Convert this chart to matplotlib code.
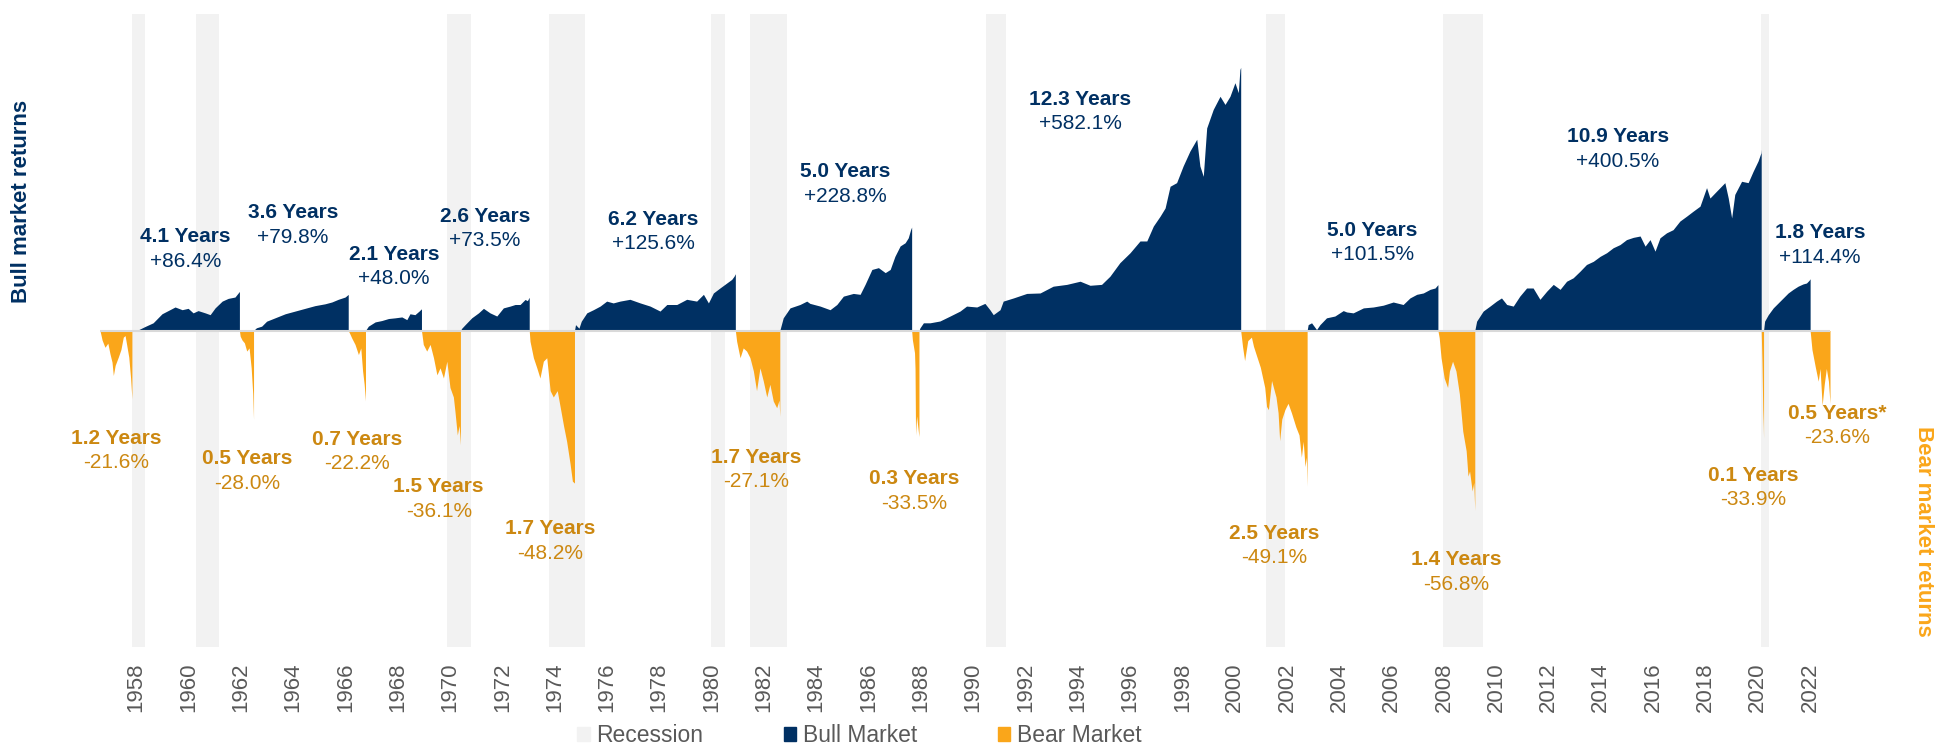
import matplotlib
matplotlib.use("Agg")
import matplotlib.pyplot as plt
from matplotlib.patches import Patch

plt.rcParams['font.family'] = ['Liberation Sans', 'DejaVu Sans']

# cumulative returns (%) along each bull market
bull_57_t = [1957.84, 1958.1, 1958.34, 1958.65, 1958.99, 1959.19, 1959.49, 1959.76, 1959.99, 1960.18,
             1960.37, 1960.64, 1960.83, 1961.02, 1961.29, 1961.52, 1961.78, 1961.95]
bull_57_v = [0, 2, 8.8, 17, 37, 43, 52, 46, 49, 39, 44, 39, 35, 50, 65, 71, 74, 86.4]

bull_62_t = [1962.49, 1962.6, 1962.8, 1962.99, 1963.31, 1963.7, 1964.08, 1964.46, 1964.84, 1965.22,
             1965.48, 1965.73, 1965.99, 1966.11]
bull_62_v = [0, 6, 9.6, 20.6, 28, 37, 43, 49, 55, 59, 63, 69, 74, 79.8]

bull_66_t = [1966.77, 1966.88, 1967.14, 1967.39, 1967.65, 1967.9, 1968.16, 1968.35, 1968.47, 1968.66,
             1968.82, 1968.91]
bull_66_v = [0, 9.6, 19, 22, 26.5, 28, 30, 24, 37, 35, 43, 48.0]

bull_70_t = [1970.4, 1970.45, 1970.58, 1970.83, 1971.09, 1971.28, 1971.53, 1971.79, 1972.04, 1972.3,
             1972.49, 1972.68, 1972.87, 1972.96, 1973.03]
bull_70_v = [0, 5, 13, 28, 39, 49, 39, 32, 50, 54, 57.5, 57.5, 68.6, 66, 73.5]

bull_74_t = [1974.76, 1974.8, 1974.93, 1975.02, 1975.23, 1975.48, 1975.74, 1975.99, 1976.24, 1976.5,
             1976.88, 1977.27, 1977.65, 1978.03, 1978.29, 1978.67, 1979.05, 1979.43, 1979.69, 1979.88,
             1980.07, 1980.32, 1980.58, 1980.77, 1980.86, 1980.91]
bull_74_v = [0, 13, 5, 20.6, 39, 46, 54, 65, 61, 65, 69, 61, 54, 43, 57.5, 57.5, 69, 65, 80, 61,
             83, 94, 105, 113, 120, 125.6]

bull_82_t = [1982.61, 1982.74, 1983.0, 1983.38, 1983.64, 1983.76, 1984.15, 1984.53, 1984.79, 1985.04,
             1985.42, 1985.68, 1985.87, 1986.13, 1986.38, 1986.64, 1986.83, 1987.01, 1987.21, 1987.4,
             1987.52, 1987.61, 1987.65]
bull_82_v = [0, 28, 50, 57.5, 65, 60, 54, 46, 57.5, 76, 82, 80, 102, 135, 139, 128, 135, 164, 187, 194,
             205, 223, 228.8]

bull_87_t = [1987.93, 1987.97, 1988.1, 1988.35, 1988.73, 1989.12, 1989.5, 1989.75, 1990.14, 1990.45,
             1990.64, 1990.77, 1991.03, 1991.15, 1991.54, 1992.05, 1992.56, 1993.06, 1993.58, 1994.09,
             1994.47, 1994.91, 1995.23, 1995.61, 1996.0, 1996.38, 1996.64, 1996.89, 1997.15, 1997.34,
             1997.53, 1997.78, 1998.03, 1998.29, 1998.55, 1998.67, 1998.8, 1998.93, 1999.18, 1999.44,
             1999.63, 1999.82, 2000.01, 2000.14, 2000.2, 2000.23]
bull_87_v = [0, 6, 17, 17, 21, 32, 43, 54, 52, 60, 46, 35, 46, 65, 72, 82, 83, 98, 102, 109,
             100, 102, 120, 150, 172, 198, 198, 231, 253, 271, 319, 327, 364, 397, 423, 364, 341, 448,
             489, 518, 500, 518, 548, 526, 577, 582.1]

bull_02_t = [2002.77, 2002.81, 2002.94, 2003.13, 2003.26, 2003.51, 2003.83, 2004.15, 2004.28, 2004.53,
             2004.92, 2005.3, 2005.68, 2006.06, 2006.44, 2006.7, 2006.96, 2007.21, 2007.47, 2007.66,
             2007.77]
bull_02_v = [0, 13, 17, 2, 13, 28, 32, 44, 41, 39, 50, 52, 56, 63, 57.5, 72, 80, 83, 91, 94, 101.5]

bull_09_t = [2009.18, 2009.25, 2009.5, 2009.76, 2010.01, 2010.2, 2010.4, 2010.65, 2010.9, 2011.16,
             2011.41, 2011.67, 2011.93, 2012.18, 2012.44, 2012.69, 2012.94, 2013.2, 2013.45, 2013.71,
             2013.97, 2014.22, 2014.47, 2014.73, 2014.98, 2015.24, 2015.5, 2015.69, 2015.88, 2016.07,
             2016.26, 2016.51, 2016.76, 2017.02, 2017.28, 2017.53, 2017.79, 2018.04, 2018.17, 2018.42,
             2018.74, 2018.87, 2019.0, 2019.12, 2019.38, 2019.63, 2019.82, 2020.01, 2020.12, 2020.13]
bull_09_v = [0, 20.6, 43, 54, 65, 72, 57.5, 54, 76, 94, 94, 69, 87, 102, 91, 109, 116.5, 131, 146, 153,
             164, 172, 183, 190, 201, 206, 209, 186.6, 201, 175.5, 205, 216, 223, 242, 253, 264, 275,
             316, 293, 308, 327, 293, 249, 301, 330, 327, 352, 375, 393, 400.5]

bull_20_t = [2020.22, 2020.26, 2020.4, 2020.59, 2020.78, 2020.97, 2021.16, 2021.35, 2021.54, 2021.73,
             2021.86, 2021.96, 2022.0]
bull_20_v = [0, 20.6, 35, 50, 61, 72, 83, 91, 98, 103, 105, 111, 114.4]

# drawdowns (%) along each bear market
bear_56_t = [1956.62, 1956.7, 1956.81, 1956.92, 1957.0, 1957.08, 1957.13, 1957.2, 1957.32, 1957.42,
             1957.51, 1957.58, 1957.65, 1957.72, 1957.79, 1957.84]
bear_56_v = [0, -3, -5.3, -4, -7.3, -10, -14.2, -11, -8.4, -6, -2.1, -1.6, -5, -8.4, -15, -21.6]

bear_61_t = [1961.95, 1961.98, 1962.05, 1962.14, 1962.23, 1962.32, 1962.4, 1962.46, 1962.49]
bear_61_v = [0, -1.8, -3, -3.9, -6.5, -5.5, -11.8, -20, -28.0]

bear_66_t = [1966.11, 1966.17, 1966.24, 1966.37, 1966.5, 1966.59, 1966.66, 1966.72, 1966.77]
bear_66_v = [0, -1, -2.3, -4.4, -7.6, -5.5, -12.8, -17, -22.2]

bear_68_t = [1968.91, 1968.98, 1969.11, 1969.24, 1969.37, 1969.5, 1969.62, 1969.75, 1969.88, 1970.0,
             1970.13, 1970.19, 1970.28, 1970.35, 1970.4]
bear_68_v = [0, -4.4, -6.5, -4.4, -8.6, -14, -11.8, -15, -9.7, -18, -21, -25.5, -33, -30, -36.1]

bear_73_t = [1973.03, 1973.06, 1973.19, 1973.32, 1973.44, 1973.57, 1973.7, 1973.83, 1973.95, 1974.1,
             1974.21, 1974.34, 1974.46, 1974.59, 1974.68, 1974.76]
bear_73_v = [0, -3.4, -8.6, -11.8, -15, -9.7, -8.6, -19, -21, -19, -24, -30, -35, -42, -47.6, -48.2]

bear_80_t = [1980.91, 1980.96, 1981.09, 1981.21, 1981.34, 1981.47, 1981.6, 1981.72, 1981.85, 1981.98,
             1982.11, 1982.23, 1982.36, 1982.49, 1982.58, 1982.61]
bear_80_v = [0, -3.4, -8.6, -5.5, -6.5, -8.6, -12.8, -19, -11.8, -16, -21, -17, -22.3, -24.4, -22, -27.1]

bear_87_t = [1987.65, 1987.68, 1987.72, 1987.76, 1987.78, 1987.8, 1987.84, 1987.88, 1987.93]
bear_87_v = [0, -3, -5, -7, -12, -33, -27, -30, -33.5]

bear_00_t = [2000.23, 2000.3, 2000.38, 2000.5, 2000.64, 2000.72, 2000.81, 2000.98, 2001.15, 2001.22,
             2001.29, 2001.41, 2001.58, 2001.66, 2001.72, 2001.8, 2001.92, 2002.04, 2002.17, 2002.34,
             2002.46, 2002.55, 2002.62, 2002.69, 2002.74, 2002.77]
bear_00_v = [0, -5, -9.5, -3.2, -2.1, -5, -7.3, -11.6, -18, -24, -25, -15.8, -21, -26, -34.8, -28,
             -25, -23, -26, -30.5, -33, -40, -35, -43, -40, -49.1]

bear_07_t = [2007.77, 2007.82, 2007.89, 2008.01, 2008.14, 2008.21, 2008.33, 2008.46, 2008.59, 2008.72,
             2008.85, 2008.92, 2008.98, 2009.08, 2009.14, 2009.18]
bear_07_v = [0, -2.3, -8.6, -15, -18, -12.8, -9.7, -12.8, -20, -31.8, -38, -46, -44.4, -50.7, -48, -56.8]

bear_20_t = [2020.13, 2020.16, 2020.19, 2020.21, 2020.22]
bear_20_v = [0, -10, -25, -30, -33.9]

bear_22_t = [2022.0, 2022.07, 2022.2, 2022.31, 2022.38, 2022.46, 2022.54, 2022.62, 2022.7, 2022.76]
bear_22_v = [0, -6, -11.6, -16, -12, -23.6, -17, -12, -16, -23]

recession_start = [1957.84, 1960.29, 1969.88, 1973.78, 1979.97, 1981.47, 1990.49, 2001.2, 2007.95, 2020.14]
recession_end = [1958.34, 1961.17, 1970.81, 1975.16, 1980.53, 1982.87, 1991.25, 2001.92, 2009.5, 2020.43]

bull_dur = ['4.1 Years', '3.6 Years', '2.1 Years', '2.6 Years', '6.2 Years', '5.0 Years',
            '12.3 Years', '5.0 Years', '10.9 Years', '1.8 Years']
bull_ret = ['+86.4%', '+79.8%', '+48.0%', '+73.5%', '+125.6%', '+228.8%',
            '+582.1%', '+101.5%', '+400.5%', '+114.4%']
bear_dur = ['1.2 Years', '0.5 Years', '0.7 Years', '1.5 Years', '1.7 Years', '1.7 Years',
            '0.3 Years', '2.5 Years', '1.4 Years', '0.1 Years', '0.5 Years*']
bear_ret = ['-21.6%', '-28.0%', '-22.2%', '-36.1%', '-48.2%', '-27.1%',
            '-33.5%', '-49.1%', '-56.8%', '-33.9%', '-23.6%']

tick_years = list(range(1958, 2023, 2))

# label anchor points (x in years, y in axis units)
bull_lab_x = [1959.89, 1964.0, 1967.86, 1971.34, 1977.76, 1985.1, 1994.09, 2005.27, 2014.65, 2022.37]
bull_lab_y = [206.8, 260, 169, 253, 246.6, 350.6, 512, 222, 428, 215.7]
bear_lab_x = [1957.23, 1962.23, 1966.45, 1969.57, 1973.83, 1981.7, 1987.75, 2001.51, 2008.47, 2019.82, 2023.02]
bear_lab_y = [-34, -40.6, -34.3, -49.4, -62.7, -40, -46.9, -64, -72.5, -45.7, -26.1]

navy = '#003063'
orange = '#FAA61A'
orange_txt = '#CC8811'
rec_gray = '#F2F2F2'
txt_gray = '#595959'

bulls = [(bull_57_t, bull_57_v), (bull_62_t, bull_62_v), (bull_66_t, bull_66_v), (bull_70_t, bull_70_v),
         (bull_74_t, bull_74_v), (bull_82_t, bull_82_v), (bull_87_t, bull_87_v), (bull_02_t, bull_02_v),
         (bull_09_t, bull_09_v), (bull_20_t, bull_20_v)]
bears = [(bear_56_t, bear_56_v), (bear_61_t, bear_61_v), (bear_66_t, bear_66_v), (bear_68_t, bear_68_v),
         (bear_73_t, bear_73_v), (bear_80_t, bear_80_v), (bear_87_t, bear_87_v), (bear_00_t, bear_00_v),
         (bear_07_t, bear_07_v), (bear_20_t, bear_20_v), (bear_22_t, bear_22_v)]

W, H = 1937, 748
fig = plt.figure(figsize=(W / 100, H / 100), dpi=100)
ax = fig.add_axes([100 / W, 1 - 647 / H, 1730 / W, 633 / H])
ax2 = ax.twinx()

for s, e in zip(recession_start, recession_end):
    ax.axvspan(s, e, color=rec_gray, lw=0, zorder=0)

for t, v in bulls:
    ax.fill_between(t, 0, v, color=navy, lw=0, zorder=2)
for t, v in bears:
    ax2.fill_between(t, 0, v, color=orange, lw=0, zorder=2)

ax2.axhline(0, color='#D9D9D9', lw=1.5, zorder=3)

ax.set_xlim(1956.62, 2022.76)
ax.set_ylim(-700, 700)
ax2.set_ylim(-100, 100)

for a in (ax, ax2):
    for sp in a.spines.values():
        sp.set_visible(False)
    a.set_yticks([])

ax.set_xticks(tick_years)
ax.set_xticklabels([str(y) for y in tick_years], rotation=90, fontsize=16, color=txt_gray)
ax.tick_params(axis='x', length=0, pad=11)

bull_gap = 24.5 / (633 / 1400)
bear_gap = 24.5 / (633 / 200)
for x, y, d, r in zip(bull_lab_x, bull_lab_y, bull_dur, bull_ret):
    ax.text(x, y, d, ha='center', va='center', fontsize=15, fontweight='bold', color=navy, zorder=5)
    ax.text(x, y - bull_gap, r, ha='center', va='center', fontsize=15, color=navy, zorder=5)
for x, y, d, r in zip(bear_lab_x, bear_lab_y, bear_dur, bear_ret):
    ax2.text(x, y, d, ha='center', va='center', fontsize=15, fontweight='bold', color=orange_txt, zorder=5)
    ax2.text(x, y - bear_gap, r, ha='center', va='center', fontsize=15, color=orange_txt, zorder=5)

fig.text(22 / W, 1 - 201 / H, 'Bull market returns', rotation=90, ha='center', va='center',
         fontsize=16, fontweight='bold', color=navy)
fig.text(1924 / W, 1 - 531.5 / H, 'Bear market returns', rotation=-90, ha='center', va='center',
         fontsize=16, fontweight='bold', color=orange)

handles = [Patch(color=rec_gray), Patch(color=navy), Patch(color=orange)]
leg = fig.legend(handles, ['Recession', 'Bull Market', 'Bear Market'], loc='center', ncol=3,
                 bbox_to_anchor=(859.5 / W, 1 - 736 / H), bbox_transform=fig.transFigure,
                 frameon=False, fontsize=16.5, handlelength=0.55, handleheight=0.55,
                 handletextpad=0.3, columnspacing=3.5, borderpad=0)
for t in leg.get_texts():
    t.set_color(txt_gray)

fig.savefig('out.png', dpi=100)
